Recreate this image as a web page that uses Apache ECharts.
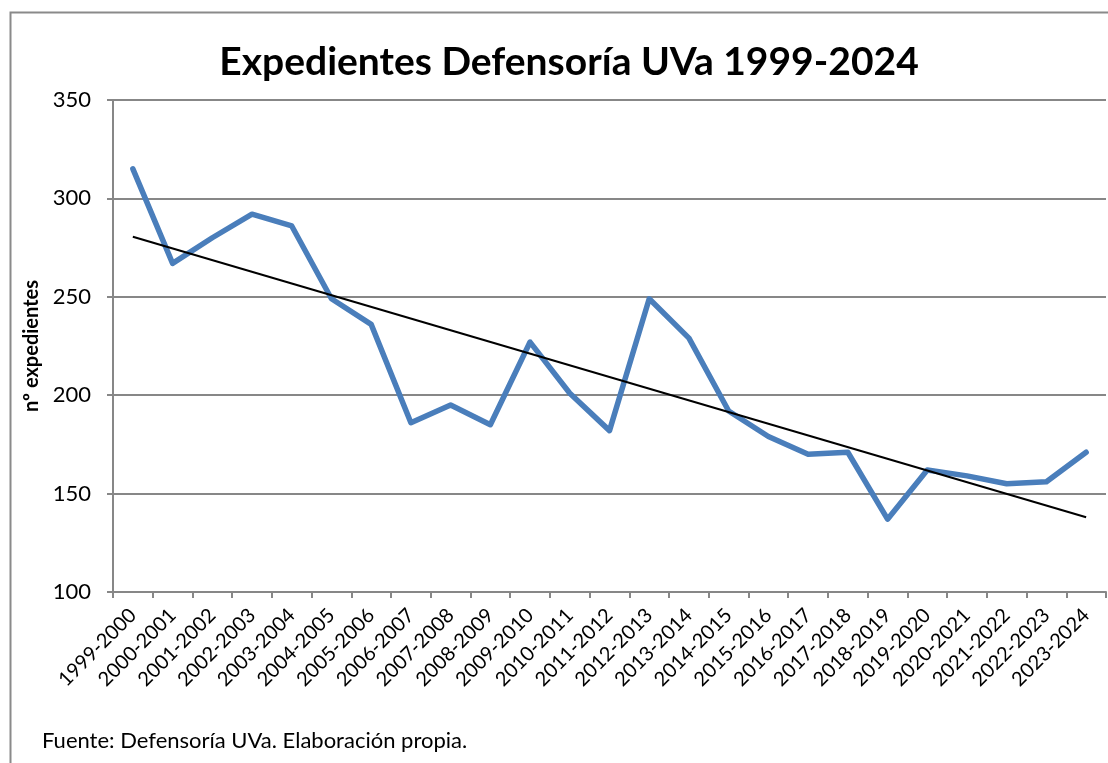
<!DOCTYPE html>
<html>
<head>
<meta charset="utf-8">
<script src="https://cdn.jsdelivr.net/npm/echarts@6/dist/echarts.min.js"></script>
<style>
    html, body { margin: 0; padding: 0; background: #fff; }
    #chart { width: 1108px; height: 763px; }
</style>
</head>
<body>
<div id="chart"></div>
<script>
const cursos = [
    "1999-2000", "2000-2001", "2001-2002", "2002-2003", "2003-2004",
    "2004-2005", "2005-2006", "2006-2007", "2007-2008", "2008-2009",
    "2009-2010", "2010-2011", "2011-2012", "2012-2013", "2013-2014",
    "2014-2015", "2015-2016", "2016-2017", "2017-2018", "2018-2019",
    "2019-2020", "2020-2021", "2021-2022", "2022-2023", "2023-2024"
];
const expedientes = [315, 267, 280, 292, 286, 249, 236, 186, 195, 185, 227, 201, 182, 249, 229, 192, 179, 170, 171, 137, 162, 159, 155, 156, 171];
// tendencia lineal: extremos
const tendenciaInicio = 280.5;
const tendenciaFin = 138;
const yTicks = [100, 150, 200, 250, 300, 350];

const tendencia = cursos.map((c, i) => {
    if (i === 0) return tendenciaInicio;
    if (i === cursos.length - 1) return tendenciaFin;
    return null;
});

const gris = "#878787";
const fuente = "Lato, 'Open Sans', sans-serif";

const chart = echarts.init(document.getElementById("chart"));
chart.setOption({
    animation: false,
    textStyle: { fontFamily: fuente },
    title: {
        text: "Expedientes Defensoría UVa 1999-2024",
        left: 564,
        textAlign: "center",
        top: 38,
        textStyle: { fontSize: 39, fontWeight: "bold", color: "#000", fontFamily: fuente }
    },
    graphic: [
        {
            type: "rect",
            shape: { x: 10.5, y: 12.5, width: 1200, height: 900 },
            style: { fill: "none", stroke: "#8a8a8a", lineWidth: 2 },
            silent: true
        },
        {
            type: "text",
            left: 42,
            top: 730,
            style: {
                text: "Fuente: Defensoría UVa. Elaboración propia.",
                fontSize: 22,
                fontFamily: fuente,
                fill: "#000"
            }
        }
    ],
    grid: { left: 113, right: 2, top: 100, bottom: 171, containLabel: false },
    xAxis: {
        type: "category",
        data: cursos,
        boundaryGap: true,
        axisLine: { lineStyle: { color: gris, width: 2 } },
        axisTick: { show: true, length: 6, lineStyle: { color: gris, width: 2 } },
        axisLabel: {
            interval: 0,
            rotate: 45,
            margin: 20,
            fontSize: 20,
            color: "#000",
            fontFamily: fuente
        }
    },
    yAxis: {
        type: "value",
        min: yTicks[0],
        max: yTicks[yTicks.length - 1],
        interval: 50,
        name: "nº expedientes",
        nameLocation: "middle",
        nameGap: 68,
        nameTextStyle: { fontSize: 20, fontWeight: "bold", color: "#000", fontFamily: fuente },
        axisLine: { show: true, lineStyle: { color: gris, width: 2 } },
        axisTick: { show: true, length: 6, lineStyle: { color: gris, width: 2 } },
        axisLabel: { margin: 22, fontSize: 22, color: "#000", fontFamily: fuente },
        splitLine: { lineStyle: { color: gris, width: 2 } }
    },
    series: [
        {
            name: "Expedientes",
            type: "line",
            data: expedientes,
            symbol: "none",
            lineStyle: { color: "#4a7ebb", width: 5.5, join: "round", cap: "round" },
            z: 2
        },
        {
            name: "Tendencia",
            type: "line",
            data: tendencia,
            connectNulls: true,
            symbol: "none",
            lineStyle: { color: "#000", width: 2 },
            z: 3
        }
    ]
});
</script>
</body>
</html>
